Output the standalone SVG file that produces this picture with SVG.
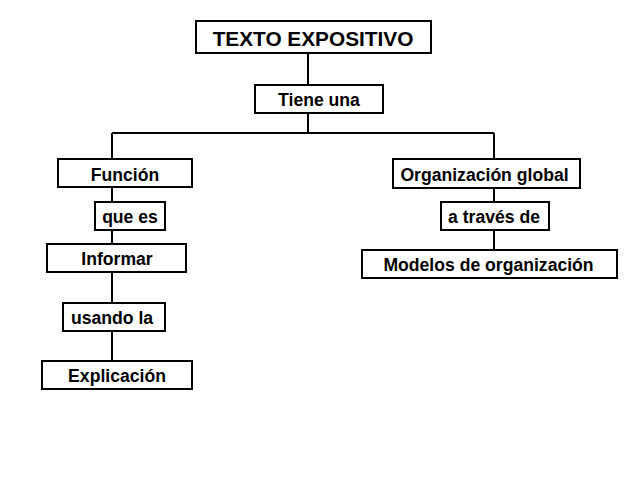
<svg xmlns="http://www.w3.org/2000/svg" width="638" height="479" viewBox="0 0 638 479">
<style>
.box{fill:#ffffff;stroke:#000000;stroke-width:2}
.lbl{font-family:"Liberation Sans",Arial,sans-serif;font-weight:bold;font-size:17.6px;fill:#000000;text-anchor:middle}
.title{font-size:20.8px}
.conn{fill:none;stroke:#000000;stroke-width:2}
</style>
<rect width="638" height="479" fill="#ffffff"/>
<g id="connectors">
<path class="conn" d="M308,53V85 M308,113V133 M112,133H494 M112,133V159 M112,187V202 M112,230V244 M112,272V303 M112,331V361 M494,133V159 M494,188V202 M494,230V250"/>
</g>
<g id="texto-expositivo">
<rect class="box" x="196" y="21" width="235" height="32"/>
<text class="lbl title" x="313" y="46">TEXTO EXPOSITIVO</text>
</g>
<g id="tiene-una">
<rect class="box" x="255" y="85" width="128" height="28"/>
<text class="lbl" x="319" y="106">Tiene una</text>
</g>
<g id="funcion">
<rect class="box" x="58" y="159" width="134" height="28"/>
<text class="lbl" x="125" y="180.5">Función</text>
</g>
<g id="que-es">
<rect class="box" x="95" y="202" width="70" height="28"/>
<text class="lbl" x="130" y="222.5">que es</text>
</g>
<g id="informar">
<rect class="box" x="47" y="244" width="139" height="28"/>
<text class="lbl" x="117" y="265">Informar</text>
</g>
<g id="usando-la">
<rect class="box" x="63" y="303" width="102" height="28"/>
<text class="lbl" x="112" y="324">usando la</text>
</g>
<g id="explicacion">
<rect class="box" x="42" y="361" width="150" height="28"/>
<text class="lbl" x="117" y="382">Explicación</text>
</g>
<g id="organizacion-global">
<rect class="box" x="393" y="159" width="187" height="29"/>
<text class="lbl" x="484.5" y="180.5">Organización global</text>
</g>
<g id="a-traves-de">
<rect class="box" x="441" y="202" width="108" height="28"/>
<text class="lbl" x="494" y="222.5">a través de</text>
</g>
<g id="modelos-de-organizacion">
<rect class="box" x="362" y="250" width="255" height="28"/>
<text class="lbl" x="488.5" y="271">Modelos de organización</text>
</g>
</svg>
